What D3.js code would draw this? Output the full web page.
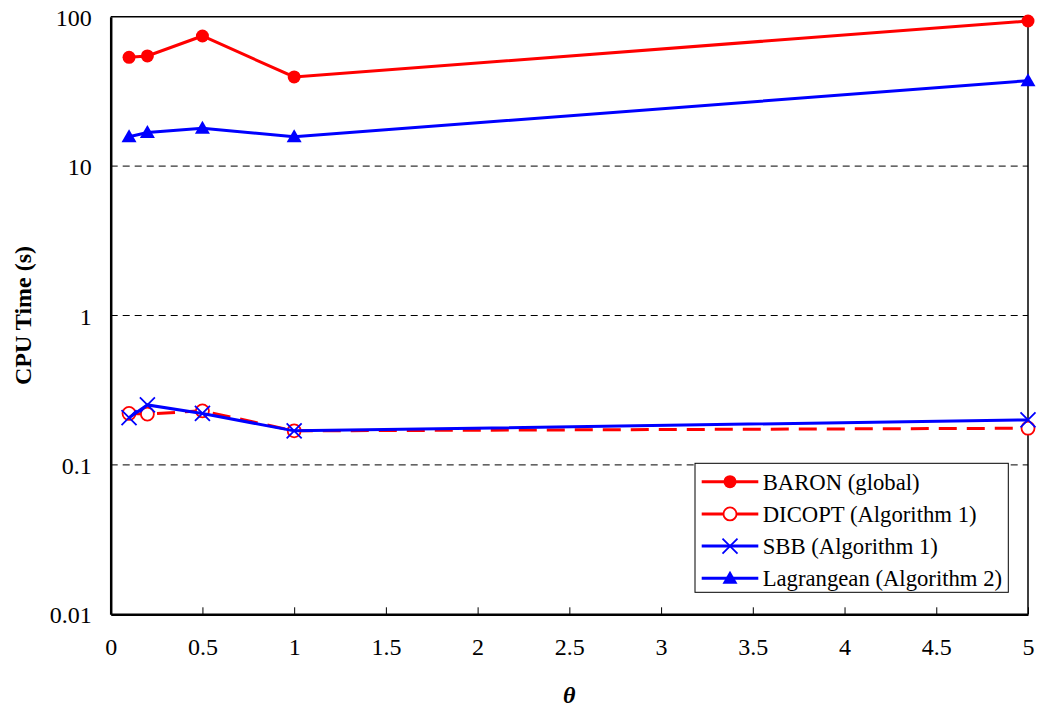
<!doctype html>
<html>
<head>
    <script src="https://d3js.org/d3.v7.min.js"></script>
    <style>
        body { margin: 0; background: #fff; }
        svg text { font-family: "Liberation Serif", "Times New Roman", serif; fill: #000; }
    </style>
</head>
<body>
<script>
    // chart values
    let theta = [0.1, 0.2, 0.5, 1, 5];
    let baron = [53.5, 54.6, 74.3, 39.5, 93.6];
    let dicopt = [0.221, 0.219, 0.230, 0.169, 0.176];
    let sbb = [0.207, 0.252, 0.221, 0.169, 0.200];
    let lagrangean = [15.7, 16.8, 17.9, 15.7, 37.3];
    let xTicks = [0, 0.5, 1, 1.5, 2, 2.5, 3, 3.5, 4, 4.5, 5];
    let yTicks = [0.01, 0.1, 1, 10, 100];
    let yTickLabels = ["0.01", "0.1", "1", "10", "100"];

    let width = 1038, height = 710;
    let plotLeft = 110.7, plotRight = 1028, plotTop = 16.7, plotBottom = 614.3;

    let svg = d3.select("body").append("svg")
        .attr("width", width)
        .attr("height", height);

    let x = d3.scaleLinear().domain([0, 5]).range([plotLeft, plotRight]);
    let y = d3.scaleLog().domain([0.01, 100]).range([plotBottom, plotTop]);

    // dashed gridlines
    svg.append("g").selectAll("line")
        .data(yTicks.filter(d => d > 0.01 && d < 100))
        .enter().append("line")
        .attr("x1", plotLeft).attr("x2", plotRight)
        .attr("y1", d => y(d)).attr("y2", d => y(d))
        .attr("stroke", "#000")
        .attr("stroke-width", 1)
        .attr("stroke-dasharray", "7,5");

    // frame: top and right
    svg.append("path")
        .attr("d", `M${plotLeft},${plotTop}H${plotRight}V${plotBottom}`)
        .attr("fill", "none")
        .attr("stroke", "#000")
        .attr("stroke-width", 1.5);

    // x axis, ticks pointing inward
    let xAxis = svg.append("g")
        .attr("transform", `translate(0,${plotBottom})`)
        .call(d3.axisBottom(x).tickValues(xTicks).tickSizeInner(-7).tickSizeOuter(0).tickPadding(24)
            .tickFormat(d3.format("")));
    xAxis.select(".domain").attr("stroke-width", 2.5);
    xAxis.selectAll(".tick line").attr("stroke-width", 1);
    xAxis.selectAll("text").attr("font-size", 24).attr("font-family", "Liberation Serif, serif");

    // y axis, no ticks
    let yAxis = svg.append("g")
        .attr("transform", `translate(${plotLeft},0)`)
        .call(d3.axisLeft(y).tickValues(yTicks).tickSize(0).tickPadding(19)
            .tickFormat((d, i) => yTickLabels[i]));
    yAxis.select(".domain").attr("stroke-width", 2.5);
    yAxis.selectAll("text").attr("font-size", 24).attr("font-family", "Liberation Serif, serif").attr("dy", "0.36em");

    // axis titles
    svg.append("text")
        .attr("transform", `translate(31,${(plotTop + plotBottom) / 2}) rotate(-90)`)
        .attr("text-anchor", "middle")
        .attr("font-size", 24)
        .attr("font-weight", "bold")
        .text("CPU Time (s)");

    svg.append("text")
        .attr("x", (plotLeft + plotRight) / 2)
        .attr("y", 703)
        .attr("text-anchor", "middle")
        .attr("font-size", 24)
        .attr("font-weight", "bold")
        .attr("font-style", "italic")
        .text("θ");

    let line = d3.line().x(d => x(d[0])).y(d => y(d[1]));

    let series = [
        {name: "BARON (global)", values: baron, color: "red", dash: null, marker: "dot"},
        {name: "DICOPT (Algorithm 1)", values: dicopt, color: "red", dash: "18,10", marker: "ring"},
        {name: "SBB (Algorithm 1)", values: sbb, color: "blue", dash: null, marker: "cross"},
        {name: "Lagrangean (Algorithm 2)", values: lagrangean, color: "blue", dash: null, marker: "tri"}
    ];

    function drawMarker(g, type, color) {
        if (type === "dot") {
            g.append("circle").attr("r", 6.5).attr("fill", color);
        } else if (type === "ring") {
            g.append("circle").attr("r", 6.5).attr("fill", "#fff").attr("stroke", color).attr("stroke-width", 1.8);
        } else if (type === "cross") {
            g.append("path").attr("d", "M-7.5,-7.5L7.5,7.5M-7.5,7.5L7.5,-7.5")
                .attr("stroke", color).attr("stroke-width", 1.8).attr("fill", "none");
        } else if (type === "tri") {
            g.append("path").attr("d", "M0,-7.5L7.5,5.5L-7.5,5.5Z").attr("fill", color);
        }
    }

    series.forEach(s => {
        let pts = theta.map((t, i) => [t, s.values[i]]);
        svg.append("path")
            .datum(pts)
            .attr("d", line)
            .attr("fill", "none")
            .attr("stroke", s.color)
            .attr("stroke-width", 3)
            .attr("stroke-dasharray", s.dash);
        svg.append("g").selectAll("g")
            .data(pts)
            .enter().append("g")
            .attr("transform", d => `translate(${x(d[0])},${y(d[1])})`)
            .each(function () { drawMarker(d3.select(this), s.marker, s.color); });
    });

    // legend
    let legend = svg.append("g").attr("transform", "translate(695,463.3)");
    legend.append("rect")
        .attr("width", 313.3).attr("height", 129)
        .attr("fill", "#fff")
        .attr("stroke", "#000")
        .attr("stroke-width", 1);

    let rows = legend.selectAll("g.row")
        .data(series)
        .enter().append("g")
        .attr("class", "row")
        .attr("transform", (d, i) => `translate(0,${18.4 + i * 32.2})`);

    rows.append("line")
        .attr("x1", 6.7).attr("x2", 63.3)
        .attr("stroke", d => d.color)
        .attr("stroke-width", 3);
    rows.append("g")
        .attr("transform", "translate(35,0)")
        .each(function (d) { drawMarker(d3.select(this), d.marker, d.color); });
    rows.append("text")
        .attr("x", 67.7)
        .attr("dy", "0.35em")
        .attr("font-size", 22.7)
        .text(d => d.name);
</script>
</body>
</html>
